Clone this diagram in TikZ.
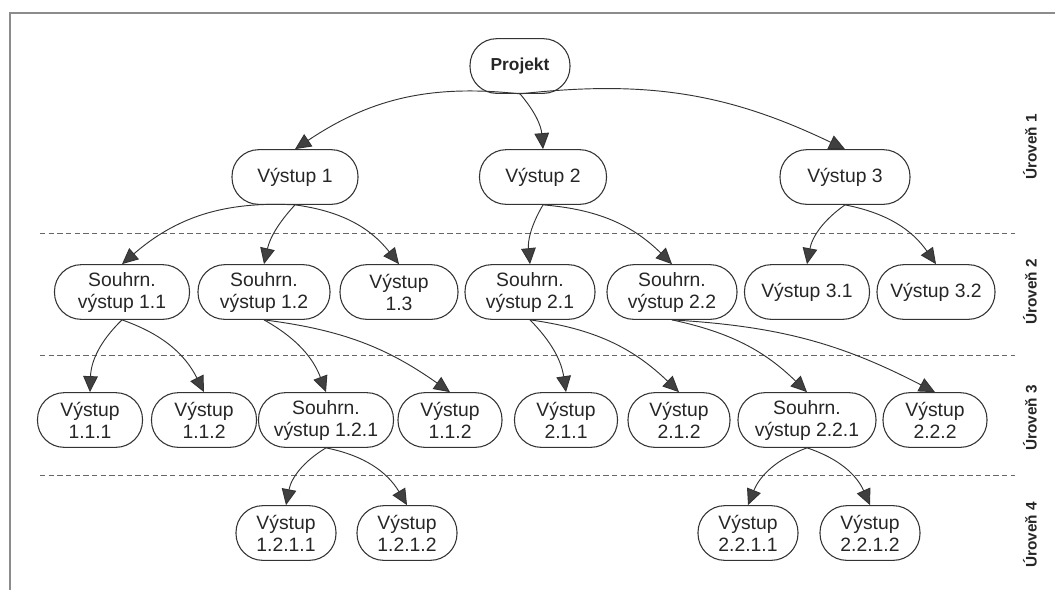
\documentclass[tikz,border=0pt]{standalone}
\usepackage{fontspec}
\setmainfont{Liberation Sans}
\usetikzlibrary{arrows.meta}

\tikzset{
  box/.style={draw=black!80, line width=0.8pt, rounded corners=20pt, minimum height=41pt,
    align=center, inner sep=0pt, font=\fontsize{14.5}{16.5}\selectfont, text=black!85},
  bw/.style={minimum width=#1*0.75pt},
  link/.style={draw=black!80, line width=0.7pt,
    -{Triangle[length=12pt,width=11pt,fill=black!75,line width=0.7pt]}},
  level/.style={font=\bfseries\fontsize{11.5}{13}\selectfont, rotate=90, text=black!85},
  sep/.style={draw=black!60, dash pattern=on 4pt off 2.5pt, line width=0.6pt}
}

\begin{document}
\begin{tikzpicture}[x=0.75pt, y=-0.75pt]
\useasboundingbox (0,0) rectangle (1055,590);
\draw[black!45, line width=2pt] (10,590) -- (10,13) -- (1055,13);

% urovne
\foreach \y in {233,355,475} \draw[sep] (40,\y) -- (1015,\y);
\foreach \y/\n in {147/1,292/2,418/3,535/4}
  \node[level] (lev\n) at (1030,\y) {Úroveň \n};

\node[box, bw=100, font=\bfseries\fontsize{13}{15}\selectfont] (proj) at (520,66) {Projekt};

% uroven 1
\node[box, bw=126] (v1) at (295,177) {Výstup 1};
\node[box, bw=127] (v2) at (543,177) {Výstup 2};
\node[box, bw=130] (v3) at (845,177) {Výstup 3};

% uroven 2
\node[box, bw=135] (s11) at (122,292) {Souhrn.\\výstup 1.1};
\node[box, bw=132] (s12) at (264,292) {Souhrn.\\výstup 1.2};
\node[box, bw=118] (v13) at (399,292) {Výstup\\1.3};
\node[box, bw=130] (s21) at (530,292) {Souhrn.\\výstup 2.1};
\node[box, bw=130] (s22) at (672,292) {Souhrn.\\výstup 2.2};
\node[box, bw=125] (v31) at (807,292) {Výstup 3.1};
\node[box, bw=118] (v32) at (936,292) {Výstup 3.2};

% uroven 3
\node[box, bw=105] (v111) at (90,420) {Výstup\\1.1.1};
\node[box, bw=105] (v112) at (204,420) {Výstup\\1.1.2};
\node[box, bw=135] (s121) at (326,420) {Souhrn.\\výstup 1.2.1};
\node[box, bw=104] (v112b) at (450,420) {Výstup\\1.1.2};
\node[box, bw=103] (v211) at (566,420) {Výstup\\2.1.1};
\node[box, bw=102] (v212) at (679,420) {Výstup\\2.1.2};
\node[box, bw=138] (s221) at (807,420) {Souhrn.\\výstup 2.2.1};
\node[box, bw=104] (v222) at (935,420) {Výstup\\2.2.2};

% uroven 4
\node[box, bw=100] (v1211) at (286,533) {Výstup\\1.2.1.1};
\node[box, bw=100] (v1212) at (407,533) {Výstup\\1.2.1.2};
\node[box, bw=100] (v2211) at (748,533) {Výstup\\2.2.1.1};
\node[box, bw=100] (v2212) at (870,533) {Výstup\\2.2.1.2};

\foreach \a/\b/\ang in {proj/v1/-20, proj/v2/18, proj/v3/16,
    v1/s11/-22, v1/s12/-15, v1/v13/22, v2/s21/-18, v2/s22/20, v3/v31/-22, v3/v32/22,
    s11/v111/-22, s11/v112/22, s12/s121/20, s12/v112b/14, s21/v211/18, s21/v212/18,
    s22/s221/16, s22/v222/12, s121/v1211/-24, s121/v1212/24, s221/v2211/-24, s221/v2212/24}
  \draw[link] (\a.south) to[bend left=\ang] (\b.north);
\end{tikzpicture}
\end{document}
